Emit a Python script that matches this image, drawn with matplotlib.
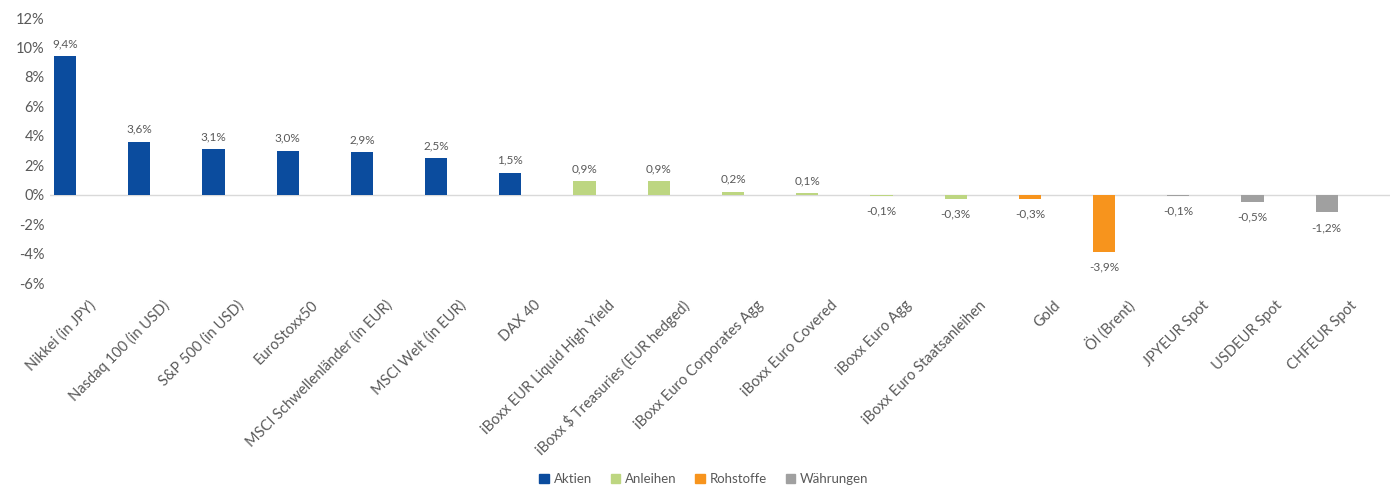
import numpy as np
import matplotlib.pyplot as plt
from matplotlib.patches import Patch
from matplotlib.transforms import ScaledTranslation

plt.rcParams['font.family'] = ['Lato', 'DejaVu Sans']

labels = ["Nikkei (in JPY)", "Nasdaq 100 (in USD)", "S&P 500 (in USD)", "EuroStoxx50",
          "MSCI Schwellenländer (in EUR)", "MSCI Welt (in EUR)", "DAX 40",
          "iBoxx EUR Liquid High Yield", "iBoxx $ Treasuries (EUR hedged)",
          "iBoxx Euro Corporates Agg", "iBoxx Euro Covered", "iBoxx Euro Agg",
          "iBoxx Euro Staatsanleihen", "Gold", "Öl (Brent)", "JPYEUR Spot",
          "USDEUR Spot", "CHFEUR Spot"]
values = [9.4, 3.6, 3.1, 3.0, 2.9, 2.5, 1.5, 0.9, 0.9, 0.2, 0.1, -0.1, -0.3,
          -0.3, -3.9, -0.1, -0.5, -1.2]
groups = ["Aktien"] * 7 + ["Anleihen"] * 6 + ["Rohstoffe"] * 2 + ["Währungen"] * 3

colors = {"Aktien": "#0B4C9E", "Anleihen": "#BDD681",
          "Rohstoffe": "#F7941D", "Währungen": "#A0A0A0"}
text_col = "#595959"

fig = plt.figure(figsize=(13.94, 4.88), dpi=100)
ax = fig.add_axes([0.036, 0.42, 0.961, 0.543])

x = np.arange(len(values))
ax.bar(x, values, width=0.3, color=[colors[g] for g in groups], zorder=2)

for xi, v in zip(x, values):
    lab = f"{v:.1f}%".replace(".", ",")
    if v >= 0:
        ax.annotate(lab, (xi, v), xytext=(0, 5), textcoords="offset points",
                    ha="center", va="bottom", fontsize=8.5, color=text_col)
    else:
        ax.annotate(lab, (xi, v), xytext=(0, -7), textcoords="offset points",
                    ha="center", va="top", fontsize=8.5, color=text_col)

ax.axhline(0, color="#D9D9D9", linewidth=1, zorder=1)
ax.set_ylim(-6, 12)
ax.set_xlim(-0.2, 17.85)
ax.set_yticks(range(-6, 13, 2))
ax.set_yticklabels([f"{t}%" for t in range(-6, 13, 2)], fontsize=10.5, color=text_col)
ax.set_xticks(x)
ax.set_xticklabels(labels, rotation=45, ha="right", va="center",
                   rotation_mode="anchor", fontsize=10.5, color=text_col)
ax.tick_params(axis="both", length=0)
ax.tick_params(axis="x", pad=0)
ax.tick_params(axis="y", pad=4)
# shift the rotated labels like the spreadsheet does
shift = ScaledTranslation(28 / 100, -20 / 100, fig.dpi_scale_trans)
for lbl in ax.get_xticklabels():
    lbl.set_transform(lbl.get_transform() + shift)
for s in ax.spines.values():
    s.set_visible(False)

handles = [Patch(color=colors[g]) for g in colors]
fig.legend(handles, list(colors), loc="center", bbox_to_anchor=(0.505, 0.018),
           ncol=4, frameon=False, fontsize=9.5, handlelength=0.7, handleheight=0.7,
           handletextpad=0.4, columnspacing=1.4, labelcolor=text_col)

fig.savefig("out.png", dpi=100)
